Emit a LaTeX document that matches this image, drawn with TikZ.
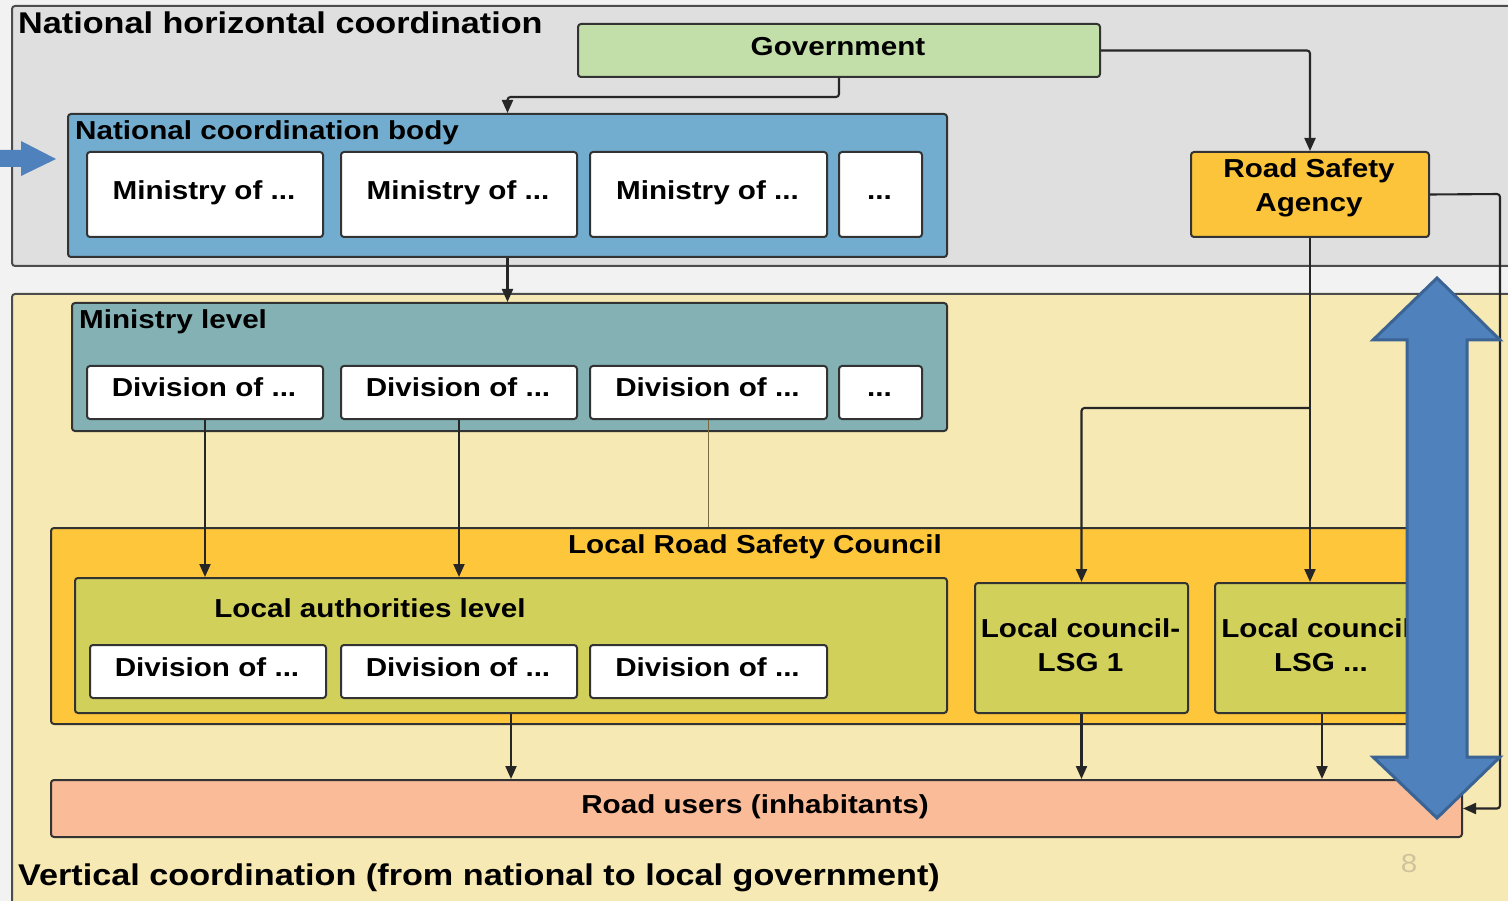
\documentclass[tikz,border=0pt]{standalone}
\usepackage{fontspec}
\setmainfont{Liberation Sans}[FakeStretch=1.14]
\usetikzlibrary{arrows.meta,calc}
\definecolor{pagebg}{HTML}{F2F2F2}
\definecolor{toppanel}{HTML}{DFDFDF}
\definecolor{botpanel}{HTML}{F7E9B3}
\definecolor{govgreen}{HTML}{C2DFA9}
\definecolor{ncbblue}{HTML}{72ADCF}
\definecolor{minteal}{HTML}{83B1B4}
\definecolor{councilor}{HTML}{FDC63B}
\definecolor{lalolive}{HTML}{D1D05A}
\definecolor{usersalmon}{HTML}{F9BB98}
\definecolor{rsaor}{HTML}{FCC43A}
\definecolor{bigblue}{HTML}{4F81BD}
\definecolor{bigblueedge}{HTML}{3B6494}
\definecolor{pagenum}{HTML}{CFC39D}
\definecolor{thinline}{HTML}{7A6A40}
\newcommand\mybox[7]{\node[#2, anchor=north west, minimum width={(#5-#3)*1pt}, minimum height={(#6-#4)*1pt}] (#1) at (#3,#4) {#7};}
\begin{document}
\begin{tikzpicture}[x=1pt,y=-1pt,
  panel/.style={draw=black!70, line width=2pt, rounded corners=3pt, inner sep=0pt},
  bx/.style={draw=black!80, line width=2pt, rounded corners=3pt, inner sep=0pt},
  whitebx/.style={bx, fill=white},
  bodytxt/.style={inner sep=0pt, font=\fontsize{26}{34}\selectfont\bfseries, align=center},
  titletxt/.style={inner sep=0pt, font=\fontsize{30}{36}\selectfont\bfseries},
  conn/.style={line width=2.1pt, draw=black!85, -{Triangle[length=13pt,width=11pt]}},
]
\useasboundingbox (0,0) rectangle (1508,901);
\clip (0,0) rectangle (1508,901);
\fill[pagebg] (0,0) rectangle (1508,901);

% panels
\mybox{top}{panel, fill=toppanel}{11}{5}{1530}{265}{}
\mybox{bottom}{panel, fill=botpanel}{11}{293}{1530}{920}{}
\node[titletxt, anchor=base west] (toptitle) at (18,34) {National horizontal coordination};
\node[titletxt, anchor=base west] (bottitle) at (18,885) {Vertical coordination (from national to local government)};

% government
\mybox{gov}{bx, fill=govgreen}{577}{23}{1099}{76}{}
\node[bodytxt, anchor=base] (govt) at (838,56) {Government};

% national coordination body
\mybox{ncb}{bx, fill=ncbblue}{67}{113}{946}{256}{}
\node[bodytxt, anchor=base west] (ncbt) at (75,140) {National coordination body};
\mybox{m1}{whitebx}{86}{151}{322}{236}{}
\mybox{m2}{whitebx}{340}{151}{576}{236}{}
\mybox{m3}{whitebx}{589}{151}{826}{236}{}
\mybox{m4}{whitebx}{838}{151}{921}{236}{}
\node[bodytxt, anchor=base] (m1t) at (204,200) {Ministry of ...};
\node[bodytxt, anchor=base] (m2t) at (458,200) {Ministry of ...};
\node[bodytxt, anchor=base] (m3t) at (707.5,200) {Ministry of ...};
\node[bodytxt, anchor=base] (m4t) at (879.5,200) {...};

% road safety agency
\mybox{rsa}{bx, fill=rsaor}{1190}{151}{1428}{236}{}
\node[bodytxt] (rsat) at (1309,188) {Road Safety\\Agency};

% ministry level
\mybox{ml}{bx, fill=minteal}{71}{302}{946}{430}{}
\node[bodytxt, anchor=base west] (mlt) at (79,329) {Ministry level};
\mybox{d1}{whitebx}{86}{365}{322}{418}{}
\mybox{d2}{whitebx}{340}{365}{576}{418}{}
\mybox{d3}{whitebx}{589}{365}{826}{418}{}
\mybox{d4}{whitebx}{838}{365}{921}{418}{}
\node[bodytxt, anchor=base] (d1t) at (204,396) {Division of ...};
\node[bodytxt, anchor=base] (d2t) at (458,396) {Division of ...};
\node[bodytxt, anchor=base] (d3t) at (707.5,396) {Division of ...};
\node[bodytxt, anchor=base] (d4t) at (879.5,396) {...};

% local road safety council
\mybox{council}{bx, fill=councilor}{50}{527}{1445}{723}{}
\node[bodytxt, anchor=base] (councilt) at (755,553) {Local Road Safety Council};
\mybox{lal}{bx, fill=lalolive}{74}{577}{946}{712}{}
\node[bodytxt, anchor=base] (lalt) at (370,617) {Local authorities level};
\mybox{l1}{whitebx}{89}{644}{325}{697}{}
\mybox{l2}{whitebx}{340}{644}{576}{697}{}
\mybox{l3}{whitebx}{589}{644}{826}{697}{}
\node[bodytxt, anchor=base] (l1t) at (207,676) {Division of ...};
\node[bodytxt, anchor=base] (l2t) at (458,676) {Division of ...};
\node[bodytxt, anchor=base] (l3t) at (707.5,676) {Division of ...};
\mybox{lsg1}{bx, fill=lalolive}{974}{582}{1187}{712}{}
\node[bodytxt] (lsg1t) at (1080.5,645) {Local council-\\LSG 1};
\mybox{lsgn}{bx, fill=lalolive}{1214}{582}{1428}{712}{}
\node[bodytxt] (lsgnt) at (1321,645) {Local council-\\LSG ...};

% road users
\mybox{users}{bx, fill=usersalmon}{50}{779}{1461}{836}{}
\node[bodytxt, anchor=base] (userst) at (755,813) {Road users (inhabitants)};

% connectors
\draw[conn, rounded corners=3pt] (gov.south) -- ++(0,19) -| (ncb.north);
\draw[conn, rounded corners=3pt] (gov.east) -| (rsa.north);
\draw[conn] (ncb.south) -- (ncb.south |- ml.north);
\draw[conn] (rsa.south) -- (rsa.south |- lsgn.north);
\coordinate (branch) at (1309,408);
\draw[conn, rounded corners=3pt] (branch) -| (lsg1.north);
\coordinate (rright) at (1500,194);
\draw[conn, rounded corners=3pt] (rsa.east) -- (rright) |- (users.east);
\draw[conn] (d1.south) -- (d1.south |- lal.north);
\draw[conn] (d2.south) -- (d2.south |- lal.north);
\draw[line width=1.3pt, draw=thinline] (d3.south) -- (d3.south |- council.north);
\draw[conn] (lal.south) -- (lal.south |- users.north);
\draw[conn] (lsg1.south) -- (lsg1.south |- users.north);
\draw[conn] (lsgn.south) -- (lsgn.south |- users.north);

% big double arrow
\draw[fill=bigblue, draw=bigblueedge, line width=3pt, line join=miter]
  (1437,278) -- (1500,340) -- (1467,340) -- (1467,757) -- (1500,757) -- (1437,818)
  -- (1373,757) -- (1407,757) -- (1407,340) -- (1373,340) -- cycle;

% small block arrow on the left
\fill[bigblue] (-5,150) -- (21,150) -- (21,141) -- (56,159) -- (21,176) -- (21,167) -- (-5,167) -- cycle;

% page number
\node[inner sep=0pt, font=\fontsize{26}{30}\selectfont, text=pagenum] (pnum) at (1409,864) {8};
\end{tikzpicture}
\end{document}
